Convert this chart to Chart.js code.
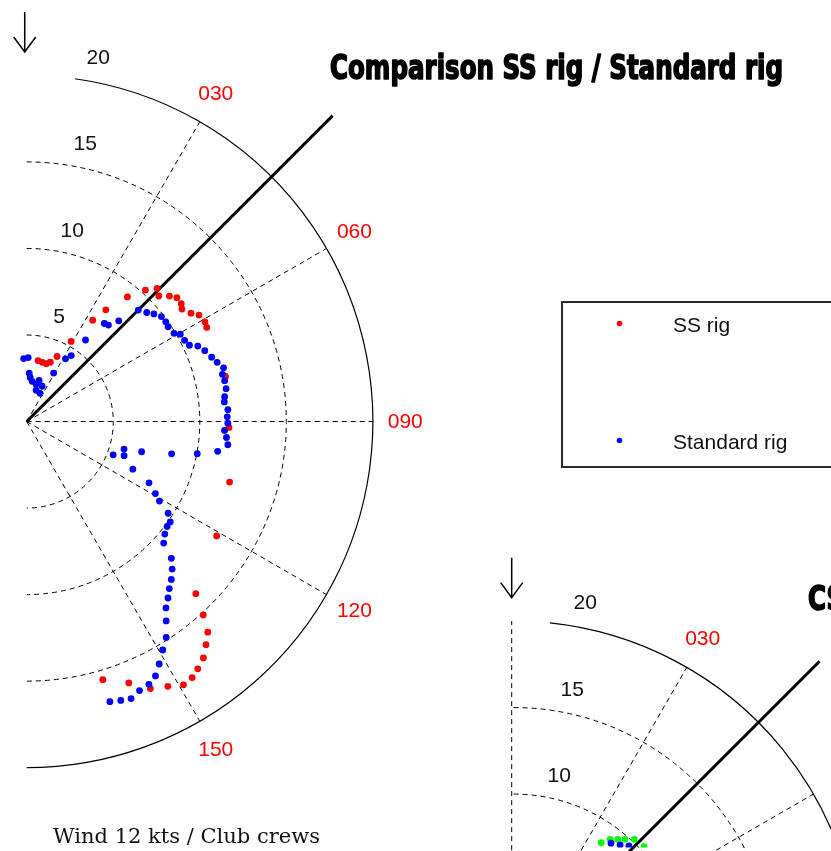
<!DOCTYPE html>
<html>
<head>
<meta charset="utf-8">
<title>Polar plots – boat speed against true wind angle</title>
<script src="https://cdn.jsdelivr.net/npm/chart.js@4.4.1/dist/chart.umd.min.js"></script>
<style>
  html, body { margin: 0; padding: 0; background: #ffffff; overflow: hidden; }
  canvas { display: block; }
</style>
</head>
<body>
<canvas id="polar" width="831" height="851"></canvas>
<script>
// Boat speed (kts) against true wind angle (deg), 12 kts of wind, club crews.
const ssRigAngle = [11.1, 15.4, 19.4, 22.3, 25.5, 29.4, 33.4, 35.6, 39.2, 42.3, 44.6, 46.7,
  48.9, 50.7, 52.9, 54.3, 56.8, 58.5, 61.0, 62.6, 77.4, 91.8, 106.7, 121.1,
  135.5, 137.6, 139.3, 141.2, 143.2, 145.3, 147.1, 149.2, 151.9, 155.1, 158.6, 163.5];
const ssRigSpeed = [3.56, 3.52, 3.51, 3.67, 4.13, 5.28, 6.98, 7.90, 9.25, 10.23, 10.77, 10.53,
  10.98, 11.25, 11.23, 11.08, 11.38, 11.71, 11.81, 11.75, 11.80, 11.72, 12.27, 12.85,
  13.98, 15.17, 16.09, 16.58, 17.09, 17.41, 17.65, 17.74, 17.37, 17.04, 16.25, 15.58];

const stdRigAngle = [-2.3, 1.8, 3.6, 5.2, 8.5, 15.1, 17.6, 24.6, 17.9, 26.6,
  29.8, 32.3, 34.5, 36.2, 38.7, 40.6, 42.7, 45.3, 48.0, 50.0,
  52.3, 54.6, 56.4, 59.3, 60.6, 63.0, 65.1, 66.4, 68.5, 71.0,
  72.9, 74.9, 76.6, 78.5, 80.8, 83.0, 84.5, 86.8, 88.8, 90.6,
  92.7, 94.7, 96.7, 99.0, 100.8, 102.7, 104.9, 106.0, 109.5, 111.2,
  114.3, 116.7, 119.3, 121.0, 123.0, 125.0, 126.8, 129.2, 131.6, 133.4,
  135.4, 137.5, 139.5, 141.3, 143.2, 145.0, 147.1, 149.2, 151.3, 153.1,
  155.0, 157.2, 159.3, 161.3, 163.4];
const stdRigSpeed = [3.61, 3.67, 2.77, 2.53, 2.32, 2.20, 2.46, 2.21, 1.87, 1.79,
  3.19, 4.25, 4.59, 5.80, 7.22, 7.30, 7.88, 9.11, 9.37, 9.63,
  9.87, 9.89, 9.84, 9.93, 10.22, 10.27, 10.40, 10.82, 11.09, 11.33,
  11.54, 11.81, 11.65, 11.70, 11.70, 11.55, 11.50, 11.67, 11.62, 11.65,
  11.47, 11.61, 11.73, 11.20, 10.06, 8.61, 6.90, 5.88, 6.00, 5.39,
  6.76, 7.94, 8.56, 8.98, 9.78, 10.16, 10.17, 10.33, 10.62, 11.54,
  12.01, 12.41, 12.73, 13.10, 13.48, 14.10, 14.89, 15.40, 16.00, 16.51,
  16.78, 16.89, 17.14, 17.04, 16.92];

// Second comparison plot (upwind part)
const csRigAngle = [35.4, 37.3, 39.4, 41.3, 43.6, 47.5];
const csRigSpeed = [8.78, 9.24, 9.51, 9.79, 10.15, 10.26];
const stdRig2Angle = [38.4, 41.3, 43.8];
const stdRig2Speed = [9.10, 9.36, 9.66];

// Grid definition
const speedRings = [5, 10, 15, 20];
const angleTicks = [30, 60, 90, 120, 150];
const angleLabels = ['030', '060', '090', '120', '150'];
const courseAngle = 45;
const courseLength = 25;

// Layout: pixels per knot and where each plot's origin sits on the page
const PX_PER_KT = 17.45;
const W = 831, H = 851;
const ORIGIN_PX = { x: 23, y: 421 };
const xMin = -ORIGIN_PX.x / PX_PER_KT, xMax = (W - ORIGIN_PX.x) / PX_PER_KT;
const yMax = ORIGIN_PX.y / PX_PER_KT, yMin = -(H - ORIGIN_PX.y) / PX_PER_KT;

const panels = [
  { off: { x: 0, y: 0 }, ringStart: 8, axis: false,
    title: 'Comparison SS rig / Standard rig', titleX: 330, titleBase: 79,
    caption: 'Wind 12 kts / Club crews', captionX: 53, captionBase: 843,
    legend: { x: 562, y: 302 }, datasets: [0, 1] },
  { off: { x: 491 / PX_PER_KT, y: -550 / PX_PER_KT }, ringStart: 6, axis: true,
    title: 'CS rig / Standard rig', titleX: 808, titleBase: 610,
    caption: 'Wind 12 kts / Club crews', captionX: 544, captionBase: 1393,
    legend: { x: 1053, y: 852 }, datasets: [2, 3] }
];

function toXY(angles, speeds, off) {
  return angles.map((a, i) => {
    const t = a * Math.PI / 180;
    return { x: off.x + speeds[i] * Math.sin(t), y: off.y + speeds[i] * Math.cos(t) };
  });
}

const RED = '#ff0000', BLUE = '#0000ff', GREEN = '#00ff00';

const labelFont = "21px 'Liberation Sans', Arial, sans-serif";
const titleFont = px => `bold ${px}px 'Liberation Sans Narrow', 'DejaVu Sans Condensed', 'Liberation Sans', sans-serif`;
const captionFont = px => `${px}px 'DejaVu Serif', 'Liberation Serif', serif`;

const polarGrid = {
  id: 'polarGrid',
  beforeDatasetsDraw(chart) {
    const ctx = chart.ctx, xs = chart.scales.x, ys = chart.scales.y;
    panels.forEach(p => {
      const cx = xs.getPixelForValue(p.off.x) + 0.5;
      const cy = ys.getPixelForValue(p.off.y) + 0.5;
      const R = v => xs.getPixelForValue(p.off.x + v) - xs.getPixelForValue(p.off.x);
      const outer = R(speedRings[speedRings.length - 1]);
      ctx.save();
      ctx.strokeStyle = '#000';
      ctx.lineWidth = 1;
      ctx.setLineDash([5, 4]);
      speedRings.slice(0, -1).forEach(s => {
        ctx.beginPath();
        ctx.arc(cx, cy, R(s), -Math.PI / 2, Math.PI / 2);
        ctx.stroke();
      });
      angleTicks.forEach(a => {
        const t = a * Math.PI / 180;
        ctx.beginPath();
        ctx.moveTo(cx, cy);
        ctx.lineTo(cx + outer * Math.sin(t), cy - outer * Math.cos(t));
        ctx.stroke();
      });
      if (p.axis) {
        ctx.beginPath();
        ctx.moveTo(cx - 2, cy);
        ctx.lineTo(cx - 2, cy - outer);
        ctx.stroke();
      }
      ctx.setLineDash([]);
      ctx.lineWidth = 1.2;
      ctx.beginPath();
      ctx.arc(cx, cy, outer, (p.ringStart - 90) * Math.PI / 180, Math.PI / 2);
      ctx.stroke();
      // course line
      const tc = courseAngle * Math.PI / 180, lc = R(courseLength);
      ctx.lineWidth = 3;
      ctx.beginPath();
      ctx.moveTo(cx, cy);
      ctx.lineTo(cx + lc * Math.sin(tc), cy - lc * Math.cos(tc));
      ctx.stroke();
      ctx.restore();
    });
  },
  afterDatasetsDraw(chart) {
    const ctx = chart.ctx, xs = chart.scales.x, ys = chart.scales.y;
    // one horizontal squeeze for both titles
    ctx.save();
    ctx.font = titleFont(33);
    const titleScale = 453 / ctx.measureText(panels[0].title).width;
    ctx.font = captionFont(21);
    const captionScale = 267 / ctx.measureText(panels[0].caption).width;
    ctx.restore();

    panels.forEach(p => {
      const cx = xs.getPixelForValue(p.off.x);
      const cy = ys.getPixelForValue(p.off.y);
      const R = v => xs.getPixelForValue(p.off.x + v) - cx;
      ctx.save();

      // wind arrow
      const ax = cx - 1.5;
      ctx.strokeStyle = '#000';
      ctx.lineWidth = 1.5;
      ctx.beginPath();
      ctx.moveTo(ax, cy - 409);
      ctx.lineTo(ax, cy - 369);
      ctx.moveTo(ax - 11, cy - 384);
      ctx.lineTo(ax, cy - 369);
      ctx.lineTo(ax + 11, cy - 384);
      ctx.stroke();

      // speed ring labels
      ctx.font = labelFont;
      ctx.textAlign = 'center';
      ctx.textBaseline = 'middle';
      ctx.fillStyle = '#111';
      speedRings.forEach(s => {
        ctx.fillText(String(s), cx + 20 + 2.6 * s, cy - (R(s) + 17));
      });

      // angle labels (only those that fit on the page)
      ctx.fillStyle = RED;
      const lr = R(21.9);
      angleTicks.forEach((a, i) => {
        const t = a * Math.PI / 180;
        const lx = cx + lr * Math.sin(t);
        const half = ctx.measureText(angleLabels[i]).width / 2;
        if (lx + half > W) return;
        ctx.fillText(angleLabels[i], lx, cy - lr * Math.cos(t) + 1);
      });

      // title
      ctx.fillStyle = '#000';
      ctx.strokeStyle = '#000';
      ctx.textAlign = 'left';
      ctx.textBaseline = 'alphabetic';
      ctx.save();
      ctx.translate(p.titleX, p.titleBase);
      ctx.scale(titleScale, 1);
      ctx.font = titleFont(33);
      ctx.lineWidth = 1.6;
      ctx.lineJoin = 'round';
      ctx.fillText(p.title, 0, 0);
      ctx.strokeText(p.title, 0, 0);
      ctx.restore();

      // legend box
      const lg = p.legend;
      ctx.lineWidth = 2;
      ctx.strokeStyle = '#2a2a2a';
      ctx.strokeRect(lg.x, lg.y, 330, 165);
      ctx.font = labelFont;
      ctx.textBaseline = 'middle';
      p.datasets.forEach((di, k) => {
        const ds = chart.data.datasets[di];
        const yy = lg.y + 21 + k * 117;
        ctx.fillStyle = ds.backgroundColor;
        ctx.beginPath();
        ctx.arc(lg.x + 57.5, yy + 0.5, 2.8, 0, Math.PI * 2);
        ctx.fill();
        ctx.fillStyle = '#111';
        ctx.fillText(ds.label, lg.x + 111, yy + 3);
      });

      // caption
      ctx.fillStyle = '#111';
      ctx.textBaseline = 'alphabetic';
      ctx.save();
      ctx.translate(p.captionX, p.captionBase);
      ctx.scale(captionScale, 1);
      ctx.font = captionFont(21);
      ctx.fillText(p.caption, 0, 0);
      ctx.restore();

      ctx.restore();
    });
  }
};

const pointStyle = color => ({
  backgroundColor: color,
  borderColor: color,
  borderWidth: 0,
  pointRadius: 3.4,
  pointHoverRadius: 3.4,
  showLine: false
});

new Chart(document.getElementById('polar'), {
  type: 'scatter',
  data: {
    datasets: [
      Object.assign({ label: 'SS rig', data: toXY(ssRigAngle, ssRigSpeed, panels[0].off), order: 2 }, pointStyle(RED)),
      Object.assign({ label: 'Standard rig', data: toXY(stdRigAngle, stdRigSpeed, panels[0].off), order: 1 }, pointStyle(BLUE)),
      Object.assign({ label: 'CS rig', data: toXY(csRigAngle, csRigSpeed, panels[1].off), order: 2 }, pointStyle(GREEN)),
      Object.assign({ label: 'Standard rig', data: toXY(stdRig2Angle, stdRig2Speed, panels[1].off), order: 1 }, pointStyle(BLUE))
    ]
  },
  options: {
    responsive: false,
    animation: false,
    devicePixelRatio: 1,
    layout: { padding: 0 },
    events: [],
    plugins: {
      legend: { display: false },
      title: { display: false },
      tooltip: { enabled: false }
    },
    scales: {
      x: { type: 'linear', display: false, min: xMin, max: xMax },
      y: { type: 'linear', display: false, min: yMin, max: yMax }
    }
  },
  plugins: [polarGrid]
});
</script>
</body>
</html>
